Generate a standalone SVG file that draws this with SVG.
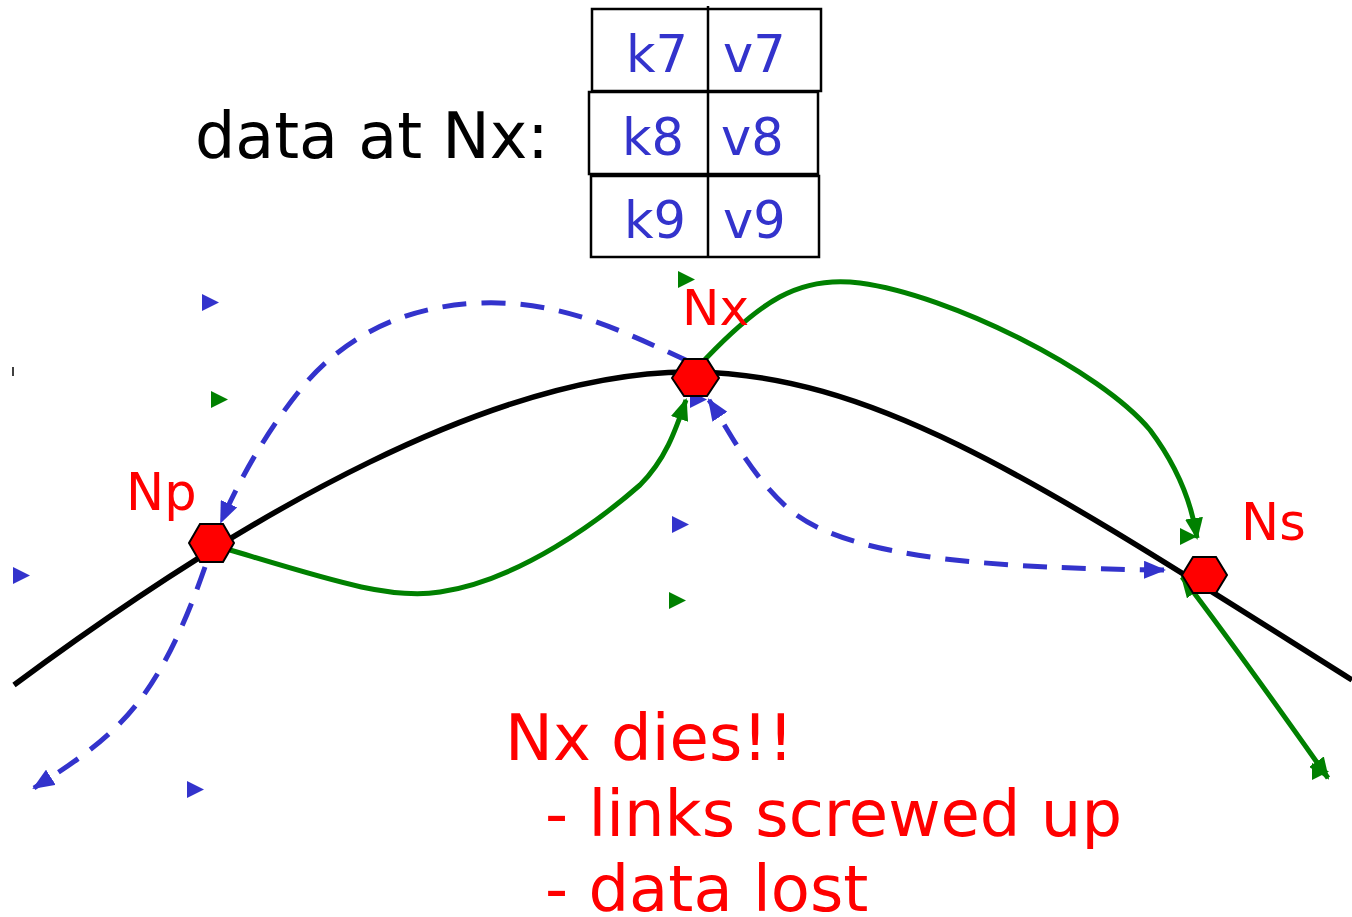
<svg xmlns="http://www.w3.org/2000/svg" width="1352" height="917" viewBox="0 0 1352 917">
<style>
.lbl{font-family:"DejaVu Sans",Verdana,sans-serif;}
.red{fill:#ff0000;}
.blue{fill:#3333cc;}
.hex{fill:#ff0000;stroke:#000;stroke-width:2;}
.cell{fill:none;stroke:#000;stroke-width:2.5;}
.g{fill:none;stroke:#008000;stroke-width:5;}
.b{fill:none;stroke:#3333cc;stroke-width:5;stroke-dasharray:24 15;}
.tg{fill:#008000;}
.tb{fill:#3333cc;}
</style>
<defs>
<marker id="ag" markerUnits="userSpaceOnUse" markerWidth="22" markerHeight="18" refX="20" refY="9" orient="auto-start-reverse" viewBox="0 0 22 18"><path d="M0,0 L22,9 L0,18 z" fill="#008000"/></marker>
<marker id="ab" markerUnits="userSpaceOnUse" markerWidth="22" markerHeight="18" refX="20" refY="9" orient="auto-start-reverse" viewBox="0 0 22 18"><path d="M0,0 L22,9 L0,18 z" fill="#3333cc"/></marker>
<polygon id="tri" points="0,0 17,8.5 0,17"/>
</defs>
<rect width="1352" height="917" fill="#fff"/>

<g id="title">
<text class="lbl" x="195" y="158" font-size="63.5" fill="#000">data at Nx:</text>
</g>

<g id="table">
<rect class="cell" x="592" y="9" width="229" height="82"/>
<rect class="cell" x="589" y="92" width="229" height="82"/>
<rect class="cell" x="591" y="176" width="228" height="81"/>
<line x1="708" y1="6" x2="708" y2="258" stroke="#000" stroke-width="2.5"/>
<text class="lbl blue" x="626" y="72" font-size="51">k7</text>
<text class="lbl blue" x="723" y="72" font-size="51">v7</text>
<text class="lbl blue" x="622" y="155" font-size="51">k8</text>
<text class="lbl blue" x="721" y="155" font-size="51">v8</text>
<text class="lbl blue" x="624" y="238" font-size="51">k9</text>
<text class="lbl blue" x="723" y="238" font-size="51">v9</text>
</g>

<g id="ring">
<path d="M14,685 C250,510 500,370 693,372 C880,374 1050,490 1352,680" fill="none" stroke="#000" stroke-width="5.5"/>
<line x1="13" y1="367" x2="13" y2="376" stroke="#000" stroke-width="1.5"/>
</g>

<g id="connectors">
<path class="g" d="M230,550 C330,580 390,600 440,592 C520,580 600,520 640,485 C665,460 675,432 686,400" marker-end="url(#ag)"/>
<path class="g" d="M697,368 C760,300 800,275 860,283 C950,295 1100,370 1150,430 C1180,470 1192,505 1197,538" marker-end="url(#ag)"/>
<path class="g" d="M1182,577 C1230,640 1280,710 1328,778" marker-start="url(#ag)" marker-end="url(#ag)"/>
<path class="b" d="M690,362 C620,330 560,300 480,303 C400,306 340,340 300,390 C260,440 235,490 221,522" marker-end="url(#ab)"/>
<path class="b" d="M205,567 C190,610 170,660 140,700 C110,740 70,765 34,788" marker-end="url(#ab)"/>
<path class="b" d="M1164,570 C1000,568 850,560 790,510 C750,475 730,432 709,400" marker-start="url(#ab)" marker-end="url(#ab)"/>
</g>

<g id="stray-marks">
<use href="#tri" class="tb" x="202" y="294"/>
<use href="#tri" class="tg" x="211" y="391"/>
<use href="#tri" class="tb" x="13" y="567"/>
<use href="#tri" class="tg" x="678" y="271"/>
<use href="#tri" class="tb" x="672" y="516"/>
<use href="#tri" class="tg" x="669" y="592"/>
<use href="#tri" class="tb" x="187" y="781"/>
<use href="#tri" class="tb" x="690" y="391"/>
<use href="#tri" class="tg" x="1180" y="528"/>
<use href="#tri" class="tg" x="1312" y="763"/>
</g>

<g id="node-Np">
<polygon class="hex" points="189,543 200,524 223,524 234,543 223,562 200,562"/>
<text class="lbl red" x="126" y="510" font-size="51">Np</text>
</g>
<g id="node-Nx">
<polygon class="hex" points="672,378 684,359 707,359 719,378 707,396 684,396"/>
<text class="lbl red" x="682" y="325" font-size="50">Nx</text>
</g>
<g id="node-Ns">
<polygon class="hex" points="1182,575 1193,557 1216,557 1227,575 1216,593 1193,593"/>
<text class="lbl red" x="1241" y="540" font-size="51">Ns</text>
</g>

<g id="caption">
<text class="lbl red" x="505" y="760" font-size="64">Nx dies!!</text>
<text class="lbl red" x="545" y="836" font-size="64">- links screwed up</text>
<text class="lbl red" x="545" y="911" font-size="64">- data lost</text>
</g>
</svg>
